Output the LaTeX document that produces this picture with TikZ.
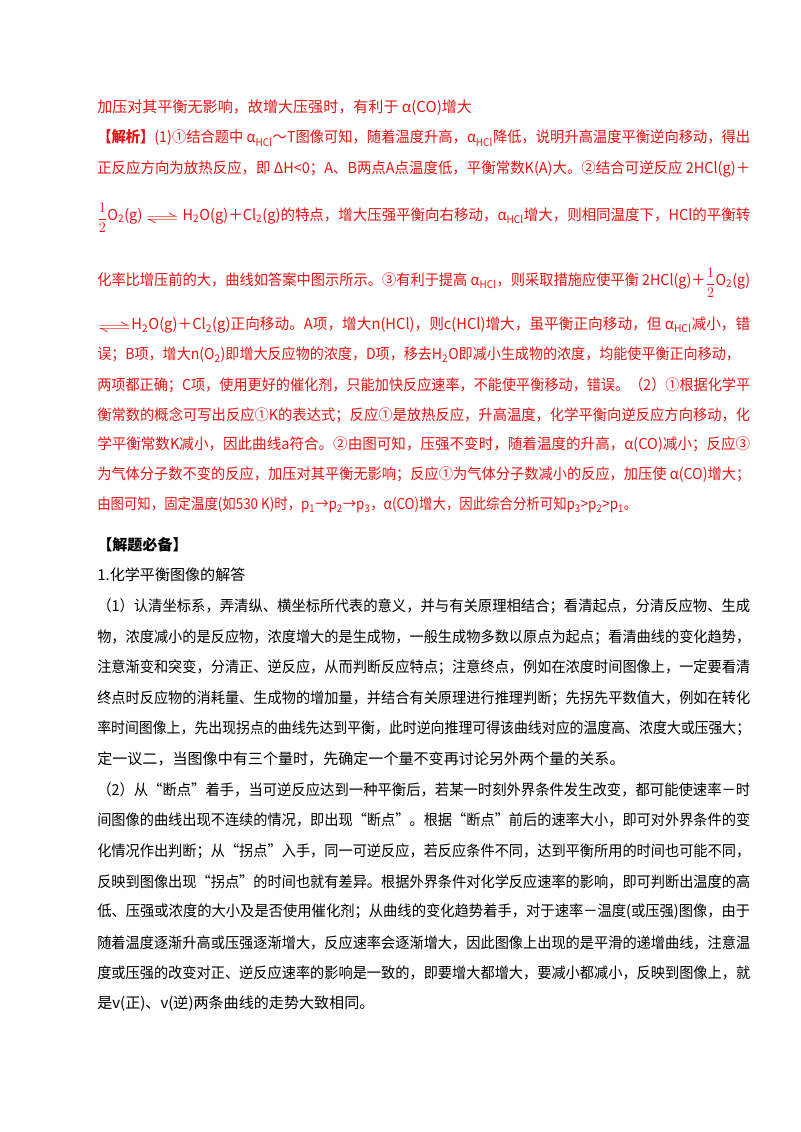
\documentclass[tikz,border=0pt]{standalone}
\usepackage{fontspec}
\usepackage{graphicx}
\setmainfont{Noto Sans CJK SC}
\definecolor{ansred}{RGB}{232,20,20}
\newcommand{\sbs}[1]{\textsubscript{#1}}
\newcommand{\eqarr}{\raisebox{-0.3ex}{\scalebox{2.4}[1]{$\rightleftharpoons$}}}
\newcommand{\half}{\raisebox{-0.3ex}{$\displaystyle\frac{1}{2}$}}
\newcommand{\fl}[1]{\resizebox{489.75pt}{\height}{#1}}
\begin{document}
\begin{tikzpicture}[x=0.75pt,y=0.75pt,
  ln/.style={anchor=west,inner sep=0pt,font=\fontsize{11.3}{13}\selectfont},
  rl/.style={ln,text=ansred},
  bl/.style={ln,text=black}]
\useasboundingbox (0,0) rectangle (800,-1132);
\fill[white] (0,0) rectangle (800,-1132);
\node[rl] (r1) at (97,-108) {加压对其平衡无影响，故增大压强时，有利于 α(CO)增大};
\node[rl] (r2) at (97,-138) {\fl{\textbf{【解析】}(1)①结合题中 α\sbs{HCl}～\textit{T}图像可知，随着温度升高，α\sbs{HCl}降低，说明升高温度平衡逆向移动，得出}};
\node[rl] (r3) at (97,-169) {\fl{正反应方向为放热反应，即 Δ\textit{H}<0；A、B两点A点温度低，平衡常数\textit{K}(A)大。②结合可逆反应 2HCl(g)＋}};
\node[rl] (r4) at (97,-218) {\fl{\half O\sbs{2}(g)\ \eqarr\ H\sbs{2}O(g)＋Cl\sbs{2}(g)的特点，增大压强平衡向右移动，α\sbs{HCl}增大，则相同温度下，HCl的平衡转}};
\node[rl] (r5) at (97,-283) {\fl{化率比增压前的大，曲线如答案中图示所示。③有利于提高 α\sbs{HCl}，则采取措施应使平衡 2HCl(g)＋\half O\sbs{2}(g)}};
\node[rl] (r6) at (97,-325) {\fl{\eqarr H\sbs{2}O(g)＋Cl\sbs{2}(g)正向移动。A项，增大\textit{n}(HCl)，则\textit{c}(HCl)增大，虽平衡正向移动，但 α\sbs{HCl}减小，错}};
\node[rl] (r7) at (97,-355) {\resizebox{482pt}{\height}{误；B项，增大\textit{n}(O\sbs{2})即增大反应物的浓度，D项，移去H\sbs{2}O即减小生成物的浓度，均能使平衡正向移动，}};
\node[rl] (r8) at (97,-385) {\fl{两项都正确；C项，使用更好的催化剂，只能加快反应速率，不能使平衡移动，错误。（2）①根据化学平}};
\node[rl] (r9) at (97,-415) {\fl{衡常数的概念可写出反应①\textit{K}的表达式；反应①是放热反应，升高温度，化学平衡向逆反应方向移动，化}};
\node[rl] (r10) at (97,-445) {\fl{学平衡常数\textit{K}减小，因此曲线a符合。②由图可知，压强不变时，随着温度的升高，α(CO)减小；反应③}};
\node[rl] (r11) at (97,-475) {\fl{为气体分子数不变的反应，加压对其平衡无影响；反应①为气体分子数减小的反应，加压使 α(CO)增大；}};
\node[rl] (r12) at (97,-505) {\resizebox{405pt}{\height}{由图可知，固定温度(如530 K)时，\textit{p}\sbs{1}→\textit{p}\sbs{2}→\textit{p}\sbs{3}，α(CO)增大，因此综合分析可知\textit{p}\sbs{3}>\textit{p}\sbs{2}>\textit{p}\sbs{1}。}};
\node[bl] (h1) at (97,-545) {\textbf{【解题必备】}};
\node[bl] (b0) at (97,-575) {1.化学平衡图像的解答};
\node[bl] (b1) at (97,-606) {\fl{（1）认清坐标系，弄清纵、横坐标所代表的意义，并与有关原理相结合；看清起点，分清反应物、生成}};
\node[bl] (b2) at (97,-637) {\fl{物，浓度减小的是反应物，浓度增大的是生成物，一般生成物多数以原点为起点；看清曲线的变化趋势，}};
\node[bl] (b3) at (97,-667) {\fl{注意渐变和突变，分清正、逆反应，从而判断反应特点；注意终点，例如在浓度时间图像上，一定要看清}};
\node[bl] (b4) at (97,-698) {\fl{终点时反应物的消耗量、生成物的增加量，并结合有关原理进行推理判断；先拐先平数值大，例如在转化}};
\node[bl] (b5) at (97,-728) {\fl{率时间图像上，先出现拐点的曲线先达到平衡，此时逆向推理可得该曲线对应的温度高、浓度大或压强大；}};
\node[bl] (b6) at (97,-759) {定一议二，当图像中有三个量时，先确定一个量不变再讨论另外两个量的关系。};
\node[bl] (c1) at (97,-790) {\fl{（2）从“断点”着手，当可逆反应达到一种平衡后，若某一时刻外界条件发生改变，都可能使速率－时}};
\node[bl] (c2) at (97,-820) {\fl{间图像的曲线出现不连续的情况，即出现“断点”。根据“断点”前后的速率大小，即可对外界条件的变}};
\node[bl] (c3) at (97,-851) {\fl{化情况作出判断；从“拐点”入手，同一可逆反应，若反应条件不同，达到平衡所用的时间也可能不同，}};
\node[bl] (c4) at (97,-882) {\fl{反映到图像出现“拐点”的时间也就有差异。根据外界条件对化学反应速率的影响，即可判断出温度的高}};
\node[bl] (c5) at (97,-912) {\fl{低、压强或浓度的大小及是否使用催化剂；从曲线的变化趋势着手，对于速率－温度(或压强)图像，由于}};
\node[bl] (c6) at (97,-943) {\fl{随着温度逐渐升高或压强逐渐增大，反应速率会逐渐增大，因此图像上出现的是平滑的递增曲线，注意温}};
\node[bl] (c7) at (97,-973) {\fl{度或压强的改变对正、逆反应速率的影响是一致的，即要增大都增大，要减小都减小，反映到图像上，就}};
\node[bl] (c8) at (97,-1004) {是v(正)、v(逆)两条曲线的走势大致相同。};
\end{tikzpicture}
\end{document}
